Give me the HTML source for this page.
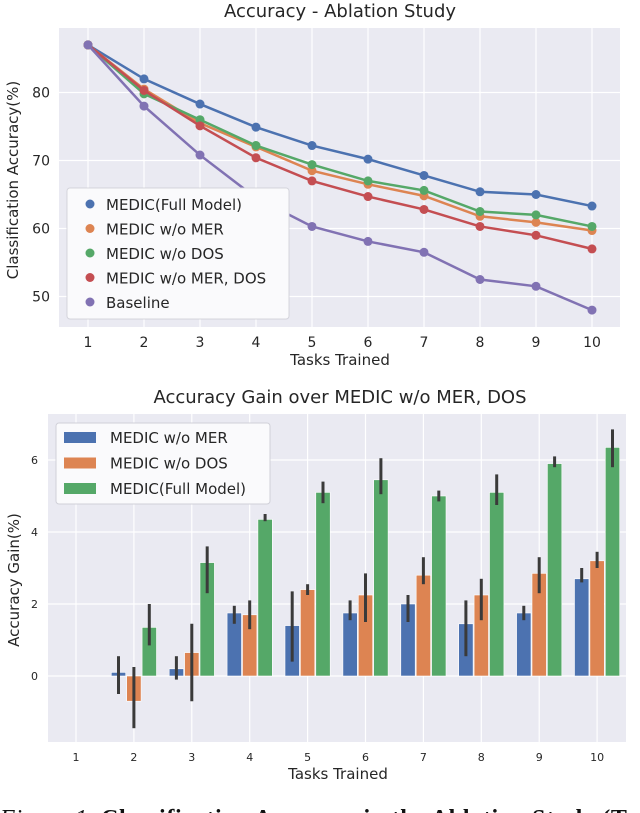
<!DOCTYPE html>
<html><head><meta charset="utf-8"><style>
body{margin:0;background:#fff;width:640px;height:813px;overflow:hidden;font-family:"DejaVu Sans","Liberation Sans",sans-serif}
svg{display:block}
</style></head><body>
<svg id="c" width="640" height="813" font-family="DejaVu Sans, Liberation Sans, sans-serif">
<rect width="640" height="813" fill="#fff"/>
<g id="top"></g>
<g id="bot"></g>
<text x="0" y="826" font-family="Liberation Serif, serif" font-size="24" fill="#111" textLength="660"><tspan font-style="italic">Figure 1.</tspan> <tspan font-weight="bold">Classification Accuracy in the Ablation Study (Top)</tspan></text>
</svg>
<script>
const tasks=[1,2,3,4,5,6,7,8,9,10];
const accNames=["MEDIC(Full Model)","MEDIC w/o MER","MEDIC w/o DOS","MEDIC w/o MER, DOS","Baseline"];
const accFull=[87,82,78.3,74.9,72.2,70.2,67.8,65.4,65,63.3];
const accNoMER=[87,80.5,75.5,72,68.5,66.5,64.8,61.8,60.9,59.7];
const accNoDOS=[87,79.8,76,72.2,69.4,67,65.6,62.5,62,60.3];
const accNoBoth=[87,80.3,75.1,70.4,67,64.7,62.8,60.3,59,57];
const accBase=[87,78,70.8,64.5,60.3,58.1,56.5,52.5,51.5,48];
const accTicks=[50,60,70,80];
const gainNames=["MEDIC w/o MER","MEDIC w/o DOS","MEDIC(Full Model)"];
const gainMER=[0,0.1,0.2,1.75,1.4,1.75,2.0,1.45,1.75,2.7];
const gainMERlo=[0,-0.5,-0.1,1.45,0.4,1.55,1.5,0.55,1.55,2.6];
const gainMERhi=[0,0.55,0.55,1.95,2.35,2.1,2.25,2.1,1.95,3.0];
const gainDOS=[0,-0.7,0.65,1.7,2.4,2.25,2.8,2.25,2.85,3.2];
const gainDOSlo=[0,-1.45,-0.7,1.3,2.25,1.5,2.55,1.55,2.3,3.0];
const gainDOShi=[0,0.25,1.45,2.1,2.55,2.85,3.3,2.7,3.3,3.45];
const gainFull=[0,1.35,3.15,4.35,5.1,5.45,5.0,5.1,5.9,6.35];
const gainFulllo=[0,0.85,2.3,4.3,4.8,5.05,4.85,4.75,5.8,5.8];
const gainFullhi=[0,2.0,3.6,4.5,5.4,6.05,5.15,5.6,6.1,6.85];
const gainTicks=[0,2,4,6];

const NS="http://www.w3.org/2000/svg";
function mk(p,t,a,txt){const e=document.createElementNS(NS,t);for(const k in a)e.setAttribute(k,a[k]);if(txt!==undefined)e.textContent=txt;p.appendChild(e);return e;}
const cols=["#4c72b0","#dd8452","#55a868","#c44e52","#8172b3"];

const T=document.getElementById('top');
const tx=v=>88+(v-1)*56;
const ty=v=>92.5-(v-80)*6.8;
let r=mk(T,'rect',{x:59,y:28,width:561,height:299,fill:'#eaeaf2'});

tasks.forEach(t=>{const l=mk(T,'line',{x1:tx(t),x2:tx(t),y1:28,y2:327,stroke:'#fff','stroke-width':1.2});

const s=mk(T,'text',{x:tx(t),y:347,'text-anchor':'middle','font-size':14,fill:'#262626'},t);
});
accTicks.forEach(v=>{const l=mk(T,'line',{x1:59,x2:620,y1:ty(v),y2:ty(v),stroke:'#fff','stroke-width':1.2});

const s=mk(T,'text',{x:50,y:ty(v)+5,'text-anchor':'end','font-size':14,fill:'#262626'},v);
});
[accFull,accNoMER,accNoDOS,accNoBoth,accBase].forEach((ser,i)=>{
 const p=mk(T,'polyline',{points:ser.map((v,j)=>tx(tasks[j])+','+ty(v)).join(' '),fill:'none',stroke:cols[i],'stroke-width':2.5});
 
 ser.forEach((v,j)=>{const c=mk(T,'circle',{cx:tx(tasks[j]),cy:ty(v),r:4.5,fill:cols[i]});
 });
});
let s=mk(T,'text',{x:340,y:17,'text-anchor':'middle','font-size':18,fill:'#262626'},'Accuracy - Ablation Study');

s=mk(T,'text',{x:340,y:365,'text-anchor':'middle','font-size':15,fill:'#262626'},'Tasks Trained');

s=mk(T,'text',{x:0,y:0,'text-anchor':'middle','font-size':15,fill:'#262626',transform:'translate(18,180) rotate(-90)'},'Classification Accuracy(%)');

r=mk(T,'rect',{x:67,y:188,width:222,height:131,rx:3,fill:'#fafafc',stroke:'#d0d0d8','stroke-opacity':0.9});

accNames.forEach((n,i)=>{const y=204+i*24.5;
 const c=mk(T,'circle',{cx:90,cy:y,r:4.5,fill:cols[i]});
 const t=mk(T,'text',{x:106,y:y+6,'font-size':15,fill:'#262626'},n);});

const B=document.getElementById('bot');
const bx=v=>76+(v-1)*57.9;
const by=v=>676-v*36;
const bw=15.4;
r=mk(B,'rect',{x:48,y:414,width:578,height:328,fill:'#eaeaf2'});

tasks.forEach(t=>{const l=mk(B,'line',{x1:bx(t),x2:bx(t),y1:414,y2:742,stroke:'#fff','stroke-width':1.2});

const s=mk(B,'text',{x:bx(t),y:761,'text-anchor':'middle','font-size':11,fill:'#262626'},t);
});
gainTicks.forEach(v=>{const l=mk(B,'line',{x1:48,x2:626,y1:by(v),y2:by(v),stroke:'#fff','stroke-width':1.2});

const s=mk(B,'text',{x:38,y:by(v)+4,'text-anchor':'end','font-size':11,fill:'#262626'},v);
});
const gs=[[gainMER,gainMERlo,gainMERhi],[gainDOS,gainDOSlo,gainDOShi],[gainFull,gainFulllo,gainFullhi]];
gs.forEach((g,i)=>{g[0].forEach((v,j)=>{if(j===0)return;
 const x=bx(tasks[j])+(i-1)*bw;
 const y0=Math.min(by(v),by(0)),h=Math.abs(by(v)-by(0));
 const b=mk(B,'rect',{x:x-bw/2+0.5,y:y0,width:bw-1,height:h,fill:cols[i],stroke:'#fff','stroke-width':0.6});
 
 const e=mk(B,'line',{x1:x,x2:x,y1:by(g[1][j]),y2:by(g[2][j]),stroke:'#3a3a3a','stroke-width':3});
 });});
s=mk(B,'text',{x:340,y:403,'text-anchor':'middle','font-size':18,fill:'#262626'},'Accuracy Gain over MEDIC w/o MER, DOS');

s=mk(B,'text',{x:338,y:779,'text-anchor':'middle','font-size':15,fill:'#262626'},'Tasks Trained');

s=mk(B,'text',{x:0,y:0,'text-anchor':'middle','font-size':15,fill:'#262626',transform:'translate(19,580) rotate(-90)'},'Accuracy Gain(%)');

r=mk(B,'rect',{x:56,y:423,width:214,height:81,rx:3,fill:'#fafafc',stroke:'#d0d0d8'});

gainNames.forEach((n,i)=>{const y=437+i*25.5;
 const c=mk(B,'rect',{x:64,y:y-5,width:32,height:11,fill:cols[i]});
 const t=mk(B,'text',{x:110,y:y+6,'font-size':15,fill:'#262626'},n);});
</script>
</body></html>
